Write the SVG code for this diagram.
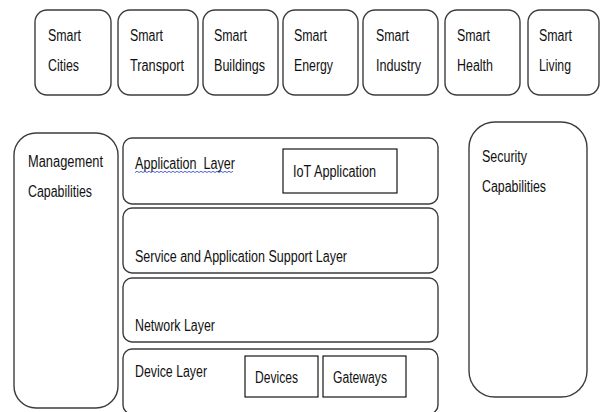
<svg xmlns="http://www.w3.org/2000/svg" width="601" height="412" viewBox="0 0 601 412">
  <style>
    .box { fill: #ffffff; stroke: #3c3c3c; stroke-width: 1.4; }
    .inner { fill: #ffffff; stroke: #000000; stroke-width: 1.1; }
    text { font-family: "Liberation Sans", Arial, sans-serif; font-size: 16px; fill: #111111; }
    .squiggle { fill: none; stroke: #3b4fd6; stroke-width: 0.9; }
  </style>
  <rect width="601" height="412" fill="#ffffff"/>

  <!-- application domains -->
  <g id="smart-cities">
    <rect class="box" x="35" y="10" width="76" height="85" rx="12"/>
    <text x="48" y="41" textLength="33" lengthAdjust="spacingAndGlyphs">Smart</text>
    <text x="48" y="71" textLength="31" lengthAdjust="spacingAndGlyphs">Cities</text>
  </g>
  <g id="smart-transport">
    <rect class="box" x="118" y="10" width="80" height="85" rx="12"/>
    <text x="130" y="41" textLength="33" lengthAdjust="spacingAndGlyphs">Smart</text>
    <text x="130" y="71" textLength="54" lengthAdjust="spacingAndGlyphs">Transport</text>
  </g>
  <g id="smart-buildings">
    <rect class="box" x="203" y="10" width="75" height="85" rx="12"/>
    <text x="214" y="41" textLength="33" lengthAdjust="spacingAndGlyphs">Smart</text>
    <text x="214" y="71" textLength="51" lengthAdjust="spacingAndGlyphs">Buildings</text>
  </g>
  <g id="smart-energy">
    <rect class="box" x="283" y="10" width="75" height="85" rx="12"/>
    <text x="294" y="41" textLength="33" lengthAdjust="spacingAndGlyphs">Smart</text>
    <text x="294" y="71" textLength="39" lengthAdjust="spacingAndGlyphs">Energy</text>
  </g>
  <g id="smart-industry">
    <rect class="box" x="363" y="10" width="75" height="85" rx="12"/>
    <text x="376" y="41" textLength="33" lengthAdjust="spacingAndGlyphs">Smart</text>
    <text x="376" y="71" textLength="45" lengthAdjust="spacingAndGlyphs">Industry</text>
  </g>
  <g id="smart-health">
    <rect class="box" x="445" y="10" width="75" height="85" rx="12"/>
    <text x="457" y="41" textLength="33" lengthAdjust="spacingAndGlyphs">Smart</text>
    <text x="457" y="71" textLength="36" lengthAdjust="spacingAndGlyphs">Health</text>
  </g>
  <g id="smart-living">
    <rect class="box" x="528" y="10" width="71" height="85" rx="12"/>
    <text x="539" y="41" textLength="33" lengthAdjust="spacingAndGlyphs">Smart</text>
    <text x="539" y="71" textLength="32" lengthAdjust="spacingAndGlyphs">Living</text>
  </g>

  <!-- side capabilities -->
  <g id="management">
    <rect class="box" x="14" y="133" width="104" height="275" rx="22"/>
    <text x="28" y="167" textLength="75" lengthAdjust="spacingAndGlyphs">Management</text>
    <text x="28" y="197" textLength="64" lengthAdjust="spacingAndGlyphs">Capabilities</text>
  </g>
  <g id="security">
    <rect class="box" x="469" y="122" width="118" height="275" rx="26"/>
    <text x="482" y="162" textLength="45" lengthAdjust="spacingAndGlyphs">Security</text>
    <text x="482" y="192" textLength="64" lengthAdjust="spacingAndGlyphs">Capabilities</text>
  </g>

  <!-- layer stack -->
  <g id="application-layer">
    <rect class="box" x="123" y="138" width="315" height="66" rx="9"/>
    <text x="135" y="169" xml:space="preserve" textLength="100" lengthAdjust="spacingAndGlyphs">Application  Layer</text>
    <path class="squiggle" d="M135 172.5 l2 -1.2 l2 1.2 l2 -1.2 l2 1.2 l2 -1.2 l2 1.2 l2 -1.2 l2 1.2 l2 -1.2 l2 1.2 l2 -1.2 l2 1.2 l2 -1.2 l2 1.2 l2 -1.2 l2 1.2 l2 -1.2 l2 1.2 l2 -1.2 l2 1.2 l2 -1.2 l2 1.2 l2 -1.2 l2 1.2 l2 -1.2 l2 1.2 l2 -1.2 l2 1.2 l2 -1.2 l2 1.2 l2 -1.2 l2 1.2 l2 -1.2 l2 1.2 l2 -1.2 l2 1.2 l2 -1.2 l2 1.2 l2 -1.2 l2 1.2 l2 -1.2 l2 1.2 l2 -1.2 l2 1.2 l2 -1.2 l2 1.2 l2 -1.2 l2 1.2 l2 -1.2"/>
  </g>
  <g id="iot-application">
    <rect class="inner" x="283" y="149" width="114" height="44"/>
    <text x="293" y="177" textLength="83" lengthAdjust="spacingAndGlyphs">IoT Application</text>
  </g>
  <g id="service-support-layer">
    <rect class="box" x="123" y="208" width="315" height="65" rx="9"/>
    <text x="135" y="262" textLength="212" lengthAdjust="spacingAndGlyphs">Service and Application Support Layer</text>
  </g>
  <g id="network-layer">
    <rect class="box" x="123" y="278" width="315" height="64" rx="9"/>
    <text x="135" y="331" textLength="80" lengthAdjust="spacingAndGlyphs">Network Layer</text>
  </g>
  <g id="device-layer">
    <rect class="box" x="123" y="349" width="315" height="65" rx="9"/>
    <text x="135" y="377" textLength="72" lengthAdjust="spacingAndGlyphs">Device Layer</text>
  </g>
  <g id="devices">
    <rect class="inner" x="245" y="356" width="73" height="41"/>
    <text x="255" y="383" textLength="43" lengthAdjust="spacingAndGlyphs">Devices</text>
  </g>
  <g id="gateways">
    <rect class="inner" x="323" y="356" width="83" height="41"/>
    <text x="333" y="383" textLength="54" lengthAdjust="spacingAndGlyphs">Gateways</text>
  </g>

  <g id="connectors"></g>
</svg>
